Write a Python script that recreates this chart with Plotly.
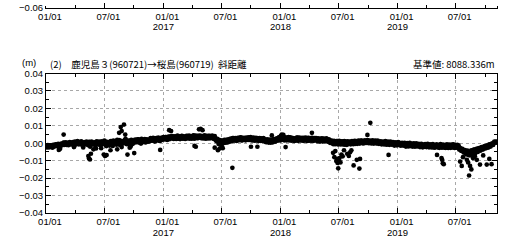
import pandas as pd
import plotly.graph_objects as go

# ---------------- data (slant distance change, mm) ----------------
start_date = "2016-01-01"
start_date_b = "2016-01-03"
# samples every 4 days
base_mm = [
    -2.0, -2.4, -1.7, -1.9, -1.3, -2.5, -1.1, -1.5, -0.7, -1.2,
    -0.9, -3.2, -0.4, -0.6, 0.4, -0.2, -1.0, 0.3, -0.5, 0.1,
    -0.3, 0.6, -1.8, 0.2, -0.4, 0.8, -0.1, -0.6, 0.3, -2.4,
    0.5, -0.3, 0.1, -1.2, 0.6, -0.5, 0.2, -3.5, 0.4, -0.2,
    0.7, -0.6, 0.1, -2.8, 0.5, -0.3, 0.9, -1.6, 0.2, 0.6,
    -0.2, 1.0, -1.5, 0.4, 1.3, -0.8, 0.6, 1.8, 0.2, -2.2,
    1.2, 0.3, 2.5, -0.5, 0.9, 1.5, -1.8, 0.7, 1.6, 0.4,
    1.8, 0.9, 2.2, 1.1, -0.2, 1.9, 1.3, 2.4, 0.8, 1.6,
    2.1, 1.4, 2.8, 1.7, 2.4, 1.2, 3.0, 2.0, 2.6, 1.5,
    3.1, 2.3, 2.9, 3.6, 2.5, 3.3, 2.7, 4.0, 2.9, 3.4,
    2.8, 3.8, 3.2, 2.6, 3.9, 3.3, 4.3, 2.9, 3.6, 3.1,
    4.1, 3.4, 2.7, 3.8, 3.2, 4.5, 3.0, 3.7, 4.2, 3.3,
    3.6, 2.9, 4.0, 3.4, 3.1, 4.2, 3.5, 2.8, 3.9, 3.2,
    3.6, 2.4, 3.0, 1.2, 2.1, 0.4, 1.5, -0.6, 0.8, 1.9,
    0.3, 1.4, 2.2, 0.9, 2.6, 1.8, 3.0, 2.1, 2.7, 1.6,
    2.9, 2.2, 3.3, 1.8, 2.6, 3.1, 2.0, 2.8, 3.4, 2.3,
    2.7, 1.9, 3.0, 2.4, 1.6, 2.8, 2.1, 1.4, 2.5, 1.8,
    1.2, 2.0, 0.8, 1.6, 1.1, 0.4, 1.9, 1.3, 2.4, 1.7,
    2.8, 2.2, 3.4, 4.2, 2.6, 3.1, 1.8, 2.9, 2.3, 3.5,
    2.6, 1.9, 3.0, 2.4, 2.8, 1.7, 3.2, 2.1, 2.7, 1.8,
    2.5, 3.1, 2.0, 2.7, 1.6, 2.9, 2.2, 1.5, 2.6, 2.0,
    1.8, 2.5, 1.4, 2.2, 1.7, 2.8, 1.3, 2.0, 1.6, 2.4,
    1.1, 1.8, 0.4, 1.2, -0.5, 0.8, 0.2, 1.3, -0.3, 0.6,
    -0.2, 0.9, 0.3, -0.8, 0.5, 1.1, -0.4, 0.7, 0.1, 1.0,
    0.4, -0.3, 0.8, 0.2, 1.2, 0.6, 1.5, 0.9, 0.3, 1.3,
    0.8, 1.6, 0.5, 1.1, 0.2, 0.9, 0.4, 1.2, -0.1, 0.7,
    0.3, 0.8, -0.2, 0.5, 0.0, 0.6, -0.4, 0.3, -0.1, 0.4,
    -0.3, 0.2, -0.6, 0.1, -0.5, -0.9, 0.0, -0.7, -0.3, -1.0,
    -0.6, -1.2, -0.4, -0.9, -1.5, -0.7, -1.1, -0.5, -1.3, -0.8,
    -1.4, -0.9, -1.6, -1.1, -0.7, -1.8, -1.2, -1.5, -0.9, -1.7,
    -1.2, -1.9, -1.4, -1.0, -2.0, -1.5, -1.1, -1.8, -1.3, -2.1,
    -1.6, -1.1, -2.2, -1.4, -1.9, -1.2, -1.7, -2.3, -1.5, -1.0,
    -1.8, -2.5, -3.6, -2.9, -4.4, -3.8, -5.2, -4.6, -5.5, -6.2,
    -4.8, -5.9, -4.3, -5.1, -3.7, -4.5, -3.2, -4.0, -2.8, -3.5,
    -2.4, -3.0, -1.8, -2.5, -1.3, -1.9, -0.8, -1.2, -0.2, 0.4,
    0.6, 1.0,
]
# second pass of the band, offset by two days
base_b_mm = [
    -1.5, -1.1, -2.3, -1.2, -2.0, -0.9, -1.9, -0.6, -1.6, -0.4,
    -1.4, -0.3, -1.2, 0.2, -0.9, 0.5, -0.4, -1.1, 0.6, -0.7,
    0.4, -0.8, 0.9, -0.5, 1.2, -0.6, 0.7, 1.1, -0.9, 0.5,
    -0.6, 1.0, -0.8, 0.8, -2.0, 0.9, -0.7, 0.5, -1.4, 1.1,
    -0.5, 0.9, -1.2, 1.1, -0.4, 1.5, -1.0, 0.8, -0.6, -1.3,
    1.2, -0.4, 1.5, -0.2, 0.3, 1.9, -0.3, -0.9, 1.4, 0.6,
    -0.1, 1.9, 0.4, 1.6, -0.3, 0.3, 2.0, -0.4, 0.9, 2.1,
    0.6, 2.3, 0.4, 1.9, 2.5, 0.7, 2.0, 0.5, 2.2, 0.9,
    1.2, 2.9, 1.5, 3.1, 1.1, 2.7, 1.6, 3.2, 1.3, 3.0,
    2.0, 3.6, 2.2, 3.5, 1.9, 3.8, 2.4, 3.1, 4.1, 2.5,
    4.0, 2.5, 4.4, 3.0, 2.4, 4.1, 2.6, 3.9, 2.5, 4.3,
    2.8, 4.4, 3.9, 2.6, 4.3, 2.6, 4.4, 2.9, 3.0, 4.4,
    4.3, 4.1, 2.8, 4.5, 2.6, 2.9, 4.3, 4.2, 2.9, 4.4,
    2.7, 4.1, 1.6, 2.6, -0.4, 1.8, -1.2, 1.6, 0.1, 0.9,
    2.0, 0.5, 1.3, 2.6, 1.2, 3.0, 1.5, 2.9, 1.4, 3.1,
    1.8, 3.4, 1.6, 3.1, 2.2, 1.7, 3.3, 1.9, 2.0, 3.5,
    1.6, 3.2, 1.5, 3.1, 2.9, 1.4, 3.0, 2.8, 1.3, 2.9,
    2.2, 0.6, 2.3, 0.4, 2.1, 1.8, 0.5, 2.4, 0.9, 2.6,
    1.5, 3.4, 1.6, 2.0, 3.6, 1.8, 3.4, 1.7, 3.3, 1.6,
    3.4, 1.5, 2.9, 1.3, 1.7, 3.2, 1.4, 3.3, 1.6, 3.1,
    1.4, 1.6, 3.2, 1.3, 3.1, 1.5, 3.0, 3.1, 1.4, 2.9,
    2.9, 1.2, 2.8, 1.0, 2.6, 1.1, 2.7, 1.1, 2.8, 1.0,
    2.2, 0.2, 1.6, -0.2, 1.4, -0.5, 1.3, -0.6, 1.4, -0.7,
    1.1, -0.7, 1.2, 0.9, -0.9, -0.2, 1.0, -0.6, 1.2, -0.5,
    1.4, 1.3, -0.3, 1.5, -0.2, 1.6, 0.1, -0.1, 1.7, 0.2,
    1.8, 0.0, 1.6, -0.1, 1.7, -0.2, 1.5, 0.0, 1.5, -0.3,
    1.1, -0.6, 1.0, -0.7, 1.2, -0.8, 0.9, -0.9, 1.0, -0.8,
    0.6, -1.3, 0.5, -1.2, 0.6, 0.2, -1.4, 0.3, -1.3, 0.2,
    -1.9, 0.1, -1.8, 0.2, -0.2, -1.9, 0.0, -2.0, -0.1, -1.8,
    -0.4, -2.2, -0.3, -2.3, -2.1, -0.5, -2.2, -0.4, -2.3, -0.6,
    -2.4, -0.5, -2.5, -2.3, -0.6, -2.4, -2.6, -0.5, -2.5, -0.7,
    -2.5, -2.6, -0.6, -2.7, -0.8, -2.6, -0.7, -0.6, -2.7, -2.5,
    -0.9, -1.2, -2.6, -4.3, -3.2, -5.3, -3.9, -6.4, -4.2, -6.8,
    -6.9, -4.1, -6.3, -3.6, -5.8, -3.2, -5.0, -2.7, -4.3, -2.2,
    -3.6, -1.7, -3.0, -1.4, -2.5, -0.6, -1.9, -0.2, -1.0, 0.9,
    0.3,
]

# scattered points away from the band
outlier_dates = [
    "2016-02-10", "2016-02-25", "2016-03-28", "2016-05-12", "2016-05-14",
    "2016-05-17", "2016-05-20", "2016-06-05", "2016-06-29", "2016-07-03",
    "2016-07-08", "2016-07-20", "2016-08-10", "2016-08-16", "2016-08-21",
    "2016-08-24", "2016-08-31", "2016-09-04", "2016-09-11", "2016-09-18",
    "2016-10-02", "2016-12-22", "2017-01-19", "2017-01-25", "2017-04-08",
    "2017-04-12", "2017-04-22", "2017-04-27", "2017-05-03", "2017-06-10",
    "2017-06-20", "2017-06-25", "2017-07-05", "2017-08-04", "2017-10-01",
    "2017-10-21", "2017-12-05", "2018-01-05", "2018-01-10", "2018-01-17",
    "2018-04-09", "2018-06-14", "2018-06-18", "2018-06-21", "2018-06-24",
    "2018-06-26", "2018-06-28", "2018-06-30", "2018-07-02", "2018-07-04",
    "2018-07-07", "2018-07-10", "2018-07-14", "2018-07-18", "2018-07-28",
    "2018-08-02", "2018-08-06", "2018-08-10", "2018-08-17", "2018-08-27",
    "2018-09-04", "2018-09-06", "2018-09-29", "2018-10-08", "2018-12-04",
    "2019-05-04", "2019-05-18", "2019-05-20", "2019-05-22", "2019-05-25",
    "2019-07-15", "2019-07-20", "2019-07-24", "2019-08-05", "2019-08-09",
    "2019-08-12", "2019-08-15", "2019-08-19", "2019-08-24", "2019-08-30",
    "2019-09-05", "2019-09-15", "2019-09-25", "2019-10-06", "2019-10-14",
    "2019-10-21",
]
outlier_mm = [
    -3.8, 5.0, -2.2, -7.3, -8.8,
    -9.3, -6.0, -3.0, -6.5, -7.3,
    -6.8, -4.0, -3.5, 6.0, 9.3,
    7.0, 10.7, 5.0, -6.5, -2.5,
    -5.6, -3.8, 7.5, 7.0, -1.5,
    -2.0, 8.0, 8.3, 7.5, -2.5,
    -4.0, -3.0, -2.8, -14.1, -2.0,
    -2.0, 4.5, 5.0, 4.8, -2.2,
    6.0, -5.5, -8.0, -4.5, -10.2,
    -9.0, -11.3, -14.4, -10.5, -8.5,
    -11.0, -6.5, -7.5, -4.0, -6.0,
    -7.3, -5.2, -4.0, -12.7, -9.5,
    -14.5, -9.0, 4.8, 11.7, -6.7,
    -6.7, -8.5, -9.5, -11.5, -12.0,
    -10.5, -13.0, -8.0, -9.5, -11.0,
    -18.5, -13.0, -15.0, -8.5, -7.5,
    -9.5, -12.2, -7.0, -12.2, -9.0,
    -12.0,
]

x_range = ["2016-01-01", "2019-11-07"]
major_dates = ["2016-01-01", "2016-07-01", "2017-01-01", "2017-07-01",
               "2018-01-01", "2018-07-01", "2019-01-01", "2019-07-01"]
major_labels = ["01/01", "07/01", "01/01", "07/01",
                "01/01", "07/01", "01/01", "07/01"]
minor_dates = ["2016-04-01", "2016-10-01", "2017-04-01", "2017-10-01",
               "2018-04-01", "2018-10-01", "2019-04-01", "2019-10-01"]
year_dates = ["2017-01-01", "2018-01-01", "2019-01-01"]
year_labels = ["2017", "2018", "2019"]
y_ticks = [-0.04, -0.03, -0.02, -0.01, 0.0, 0.01, 0.02, 0.03, 0.04]
y_labels = ["\u22120.04", "\u22120.03", "\u22120.02", "\u22120.01", "0.00",
            "0.01", "0.02", "0.03", "0.04"]

unit_label = "(m)"
title_text = "(2)\u3000鹿児島３(960721)→桜島(960719)  斜距離"
ref_text = "基準値: 8088.336m"

# ---------------- figure ----------------
dates_a = list(pd.date_range(start_date, periods=len(base_mm), freq="4D").strftime("%Y-%m-%d"))
dates_b = list(pd.date_range(start_date_b, periods=len(base_b_mm), freq="4D").strftime("%Y-%m-%d"))
all_dates = dates_a + dates_b + outlier_dates
all_m = [v / 1000.0 for v in base_mm + base_b_mm + outlier_mm]

TICKFONT = dict(family="Liberation Sans, Arial, sans-serif", size=9.5, color="black")
CJK = "Noto Sans CJK JP, sans-serif"

fig = go.Figure()
fig.add_trace(go.Scatter(
    x=all_dates, y=all_m, mode="markers", xaxis="x", yaxis="y",
    marker=dict(color="black", size=4.7, line=dict(width=0)),
    showlegend=False, hoverinfo="skip"))
# empty traces to anchor the helper axes
fig.add_trace(go.Scatter(x=[], y=[], xaxis="x2", yaxis="y2", showlegend=False))
fig.add_trace(go.Scatter(x=[], y=[], xaxis="x3", yaxis="y", showlegend=False))
fig.add_trace(go.Scatter(x=[], y=[], xaxis="x4", yaxis="y2", showlegend=False))

H = 245
B = 32
PH = H - B
main_top = (PH - 69.5) / PH
top_bottom = (PH - 2.0) / PH

date_axis = dict(
    type="date", range=x_range, tickmode="array",
    tickvals=major_dates, ticktext=major_labels,
    ticks="inside", ticklen=5, tickwidth=1, tickcolor="black",
    showline=True, linecolor="black", linewidth=1,
    showgrid=True, gridcolor="#a8a8a8", griddash="dot", gridwidth=1,
    zeroline=False, tickfont=TICKFONT, ticklabelshift=4,
    minor=dict(tickmode="array", tickvals=minor_dates, ticks="inside",
               ticklen=3, tickcolor="black", showgrid=False),
)
year_axis = dict(
    type="date", range=x_range, tickmode="array",
    tickvals=year_dates, ticktext=year_labels, ticks="",
    showline=False, showgrid=False, zeroline=False,
    tickfont=TICKFONT, ticklabelstandoff=12,
)

fig.update_layout(
    width=520, height=H,
    margin=dict(l=46, r=23, t=0, b=B, pad=0),
    paper_bgcolor="white", plot_bgcolor="white",
    xaxis=dict(**date_axis, anchor="y", mirror="ticks", domain=[0, 1]),
    yaxis=dict(
        domain=[0, main_top], range=[-0.04, 0.04], anchor="x",
        tickmode="array", tickvals=y_ticks, ticktext=y_labels,
        ticks="inside", ticklen=5, tickcolor="black",
        showline=True, linecolor="black", linewidth=1, mirror="ticks",
        showgrid=True, gridcolor="#a8a8a8", griddash="dot", gridwidth=1,
        zeroline=False, tickfont=TICKFONT,
        minor=dict(dtick=0.005, tick0=0, ticks="inside", ticklen=3,
                   tickcolor="black", showgrid=False),
    ),
    xaxis2=dict(**date_axis, anchor="y2", mirror=False),
    yaxis2=dict(
        domain=[top_bottom, 1], range=[-0.06, -0.0595], anchor="x2",
        tickmode="array", tickvals=[-0.06], ticktext=["\u22120.06"],
        ticks="inside", ticklen=5, tickcolor="black",
        showline=True, linecolor="black", linewidth=1, mirror=True,
        showgrid=False, zeroline=False, tickfont=TICKFONT,
    ),
    xaxis3=dict(**year_axis, overlaying="x", anchor="y", side="bottom"),
    xaxis4=dict(**year_axis, overlaying="x2", anchor="y2", side="bottom"),
    annotations=[
        dict(text=unit_label, xref="paper", yref="paper",
             x=(21 - 46) / 451, y=(PH - 58) / PH, xanchor="left", yanchor="middle",
             showarrow=False, borderpad=0,
             font=dict(family=TICKFONT["family"], size=9.5, color="black")),
        dict(text=title_text, xref="paper", yref="paper",
             x=2 / 451, y=(PH - 59.5) / PH, xanchor="left", yanchor="middle",
             showarrow=False, font=dict(family=CJK, size=9.5, color="black")),
        dict(text=ref_text, xref="paper", yref="paper",
             x=1.0, y=(PH - 59.5) / PH, xanchor="right", yanchor="middle",
             showarrow=False, font=dict(family=CJK, size=9.5, color="black")),
    ],
)

fig.write_html("out.html")
